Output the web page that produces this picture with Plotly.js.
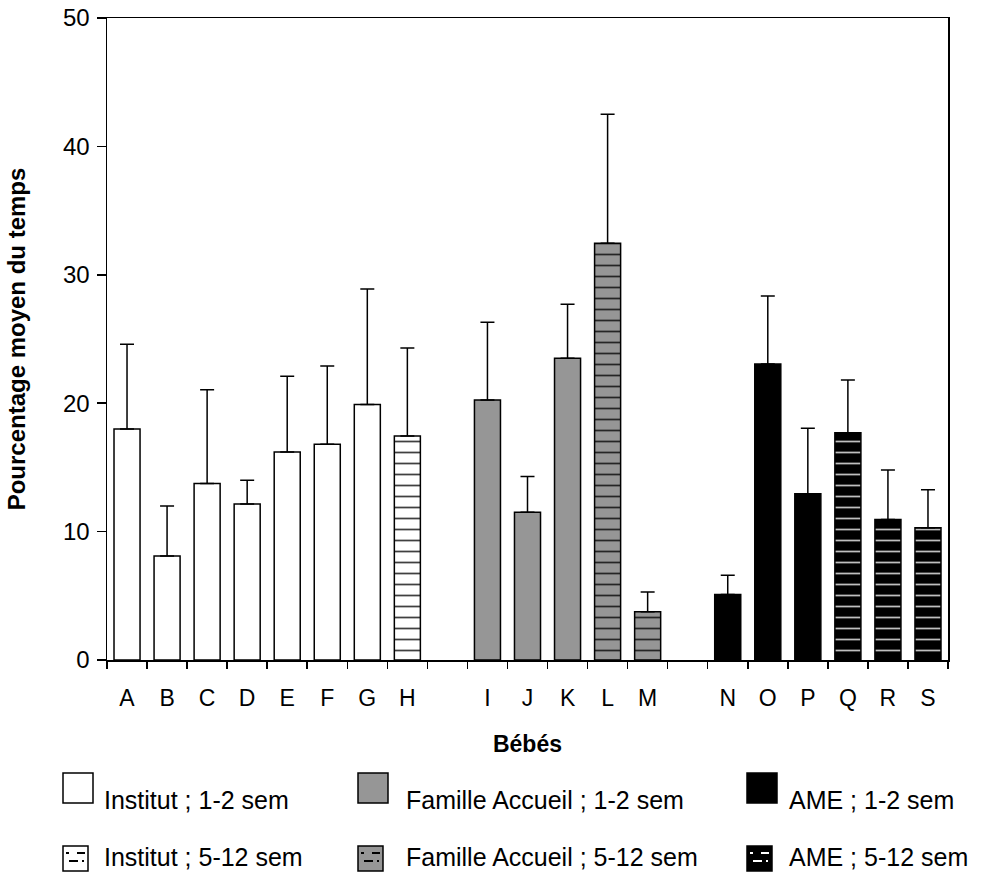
<!DOCTYPE html>
<html>
<head>
<meta charset="utf-8">
<script src="https://cdn.plot.ly/plotly-3.0.1.min.js"></script>
<style>html,body{margin:0;padding:0;background:#fff;}#chart{width:985px;height:880px;}</style>
</head>
<body>
<div id="chart"></div>
<script>
// ---- data ----
const categories = ['A','B','C','D','E','F','G','H',' ','I','J','K','L','M','  ','N','O','P','Q','R','S'];
const babies = ['A','B','C','D','E','F','G','H','I','J','K','L','M','N','O','P','Q','R','S'];
const means  = [18.0, 8.1, 13.75, 12.15, 16.2, 16.8, 19.9, 17.45, 20.25, 11.5, 23.5, 32.45, 3.75, 5.1, 23.05, 12.95, 17.7, 10.95, 10.3];
const sdPlus = [6.6, 3.9, 7.3, 1.85, 5.9, 6.1, 9.0, 6.85, 6.05, 2.8, 4.2, 10.05, 1.55, 1.5, 5.3, 5.1, 4.1, 3.85, 2.95];
const groupNames = ['Institut ; 1-2 sem','Famille Accueil ; 1-2 sem','AME ; 1-2 sem',
                    'Institut ; 5-12 sem','Famille Accueil ; 5-12 sem','AME ; 5-12 sem'];
const groupOf = ['Institut ; 1-2 sem','Institut ; 1-2 sem','Institut ; 1-2 sem','Institut ; 1-2 sem',
  'Institut ; 1-2 sem','Institut ; 1-2 sem','Institut ; 1-2 sem','Institut ; 5-12 sem',
  'Famille Accueil ; 1-2 sem','Famille Accueil ; 1-2 sem','Famille Accueil ; 1-2 sem',
  'Famille Accueil ; 5-12 sem','Famille Accueil ; 5-12 sem',
  'AME ; 1-2 sem','AME ; 1-2 sem','AME ; 1-2 sem',
  'AME ; 5-12 sem','AME ; 5-12 sem','AME ; 5-12 sem'];

// ---- styles ----
const GRAY = '#969696';
const styles = {
  'Institut ; 1-2 sem':        {bg:'#ffffff', fg:null},
  'Famille Accueil ; 1-2 sem': {bg:GRAY, fg:null},
  'AME ; 1-2 sem':             {bg:'#000000', fg:null},
  'Institut ; 5-12 sem':       {bg:'#ffffff', fg:'#000000'},
  'Famille Accueil ; 5-12 sem':{bg:GRAY, fg:'#000000'},
  'AME ; 5-12 sem':            {bg:'#000000', fg:'#ffffff'}
};
const FONT = 'Arial, "Liberation Sans", sans-serif';

const traces = groupNames.map(g => {
  const ys = categories.map(c => { const i = babies.indexOf(c); return (i >= 0 && groupOf[i] === g) ? means[i] : null; });
  const es = categories.map(c => { const i = babies.indexOf(c); return (i >= 0 && groupOf[i] === g) ? sdPlus[i] : null; });
  const st = styles[g];
  const marker = {color: st.bg, line: {color:'#000000', width:1.5}};
  if (st.fg) marker.pattern = {shape:'-', fgcolor: st.fg, bgcolor: st.bg, fgopacity:0.75, size: 11, solidity: 0.16, fillmode:'replace'};
  return {
    type:'bar', name:g, x:categories, y:ys, width:0.65, marker:marker, showlegend:false,
    error_y:{type:'data', symmetric:false, array:es, arrayminus:es.map(v => v === null ? null : 0),
             color:'#000000', thickness:1.5, width:7}
  };
});

// ---- legend (drawn in paper coords) ----
const L = 107, R = 948, T = 18, B = 660;
const px = v => (v - L) / (R - L);
const py = v => (B - v) / (B - T);
const shapes = [];
const annotations = [];
const legendCols = [63, 358, 747];
groupNames.forEach((g, k) => {
  const row = k < 3 ? 0 : 1;
  const col = k % 3;
  const x0 = legendCols[col];
  const st = styles[g];
  const size = row === 0 ? 30 : 25;
  const y0 = row === 0 ? 773 : 846;
  shapes.push({type:'rect', xref:'paper', yref:'paper', x0:px(x0), x1:px(x0+size), y0:py(y0), y1:py(y0+size),
               fillcolor: st.bg, line:{color:'#000000', width:1.5}});
  if (st.fg) {
    [[x0+14, x0+22, y0+7],[x0+3, x0+6, y0+7],[x0+6, x0+15, y0+15],[x0+19, x0+21, y0+15]].forEach(d => {
      shapes.push({type:'line', xref:'paper', yref:'paper', x0:px(d[0]), x1:px(d[1]), y0:py(d[2]), y1:py(d[2]),
                   line:{color: st.fg, width:2}});
    });
  }
  const tx = [102, 404, 787][col];
  annotations.push({xref:'paper', yref:'paper', x:px(tx), y:py(row === 0 ? 800 : 857), xanchor:'left', yanchor:'middle',
                    text:g, showarrow:false, font:{family:FONT, size:25, color:'#000000'}});
});

const layout = {
  width:985, height:880,
  margin:{l:L, r:985-R, t:T, b:880-B, pad:0},
  paper_bgcolor:'#ffffff', plot_bgcolor:'#ffffff',
  barmode:'overlay',
  font:{family:FONT, size:23, color:'#000000'},
  xaxis:{type:'category', categoryorder:'array', categoryarray:categories, range:[-0.5, 20.5],
         tickson:'boundaries', ticks:'outside', ticklen:7, tickwidth:1.5, tickcolor:'#000000',
         ticklabelstandoff:17,
         showline:true, linecolor:'#000000', linewidth:1.5, mirror:true, showgrid:false, zeroline:false,
         tickfont:{family:FONT, size:23}, fixedrange:true,
         title:{text:'<b>Bébés</b>', font:{family:FONT, size:23}, standoff:26}},
  yaxis:{range:[0,50], dtick:10, tick0:0, ticks:'outside', ticklen:9, tickwidth:1.5, tickcolor:'#000000',
         ticklabelstandoff:2,
         showline:true, linecolor:'#000000', linewidth:1.5, mirror:true, showgrid:false, zeroline:false,
         tickfont:{family:FONT, size:24}, fixedrange:true,
         title:{text:'<b>Pourcentage moyen du temps</b>', font:{family:FONT, size:24}, standoff:30}},
  shapes:shapes, annotations:annotations
};

Plotly.newPlot('chart', traces, layout, {displayModeBar:false, staticPlot:true});
</script>
</body>
</html>
